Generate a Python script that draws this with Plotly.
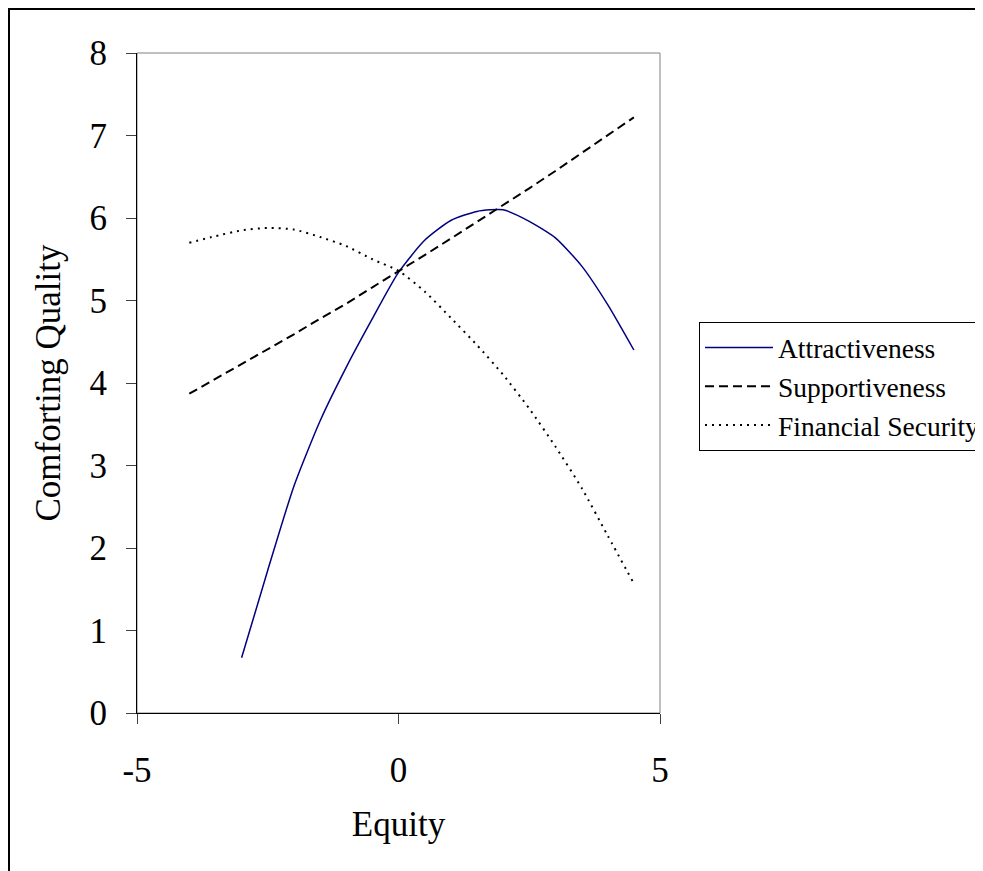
import plotly.graph_objects as go

attr_x = [-3, -2.5, -2, -1.5, -1, -0.5, 0, 0.5, 1, 1.5, 2, 2.5, 3, 3.5, 4, 4.5]
attr_y = [0.67, 1.73, 2.75, 3.54, 4.19, 4.78, 5.34, 5.73, 5.97, 6.08, 6.10, 5.96, 5.76, 5.42, 4.95, 4.40]

supp_x = [-4, -3.5, -3, -2.5, -2, -1.5, -1, -0.5, 0, 0.5, 1, 1.5, 2, 2.5, 3, 3.5, 4, 4.5]
supp_y = [3.87, 4.05, 4.22, 4.41, 4.59, 4.78, 4.96, 5.16, 5.35, 5.55, 5.75, 5.95, 6.15, 6.36, 6.57, 6.79, 7.00, 7.22]

fin_x = [-4, -3.5, -3, -2.5, -2, -1.5, -1, -0.5, 0, 0.5, 1, 1.5, 2, 2.5, 3, 3.5, 4, 4.5]
fin_y = [5.70, 5.78, 5.85, 5.88, 5.86, 5.77, 5.66, 5.50, 5.36, 5.11, 4.79, 4.46, 4.10, 3.69, 3.23, 2.73, 2.15, 1.57]

FONT = "Liberation Serif"

fig = go.Figure()
fig.add_trace(go.Scatter(x=attr_x, y=attr_y, mode="lines", name="Attractiveness", legendgroup="a",
                         line=dict(color="#000080", width=1.5, shape="spline", smoothing=0.6)))
fig.add_trace(go.Scatter(x=supp_x, y=supp_y, mode="lines", name="Supportiveness", legendgroup="b",
                         line=dict(color="black", width=2, dash="9px,5px")))
fig.add_trace(go.Scatter(x=fin_x, y=fin_y, mode="lines", name="Financial Security", legendgroup="c",
                         line=dict(color="black", width=2, dash="2px,5px", shape="spline", smoothing=0.6)))

# figure sits 8px inside the page (browser body margin)
W, H = 983, 863
OFF = 8
L, R, T, B = 137 - OFF, 660 - OFF, 53 - OFF, 713 - OFF
pw, ph = R - L, B - T

fig.update_layout(
    width=W, height=H,
    margin=dict(l=L, r=W - R, t=T, b=H - B, pad=0, autoexpand=False),
    paper_bgcolor="white", plot_bgcolor="white",
    font=dict(family=FONT, color="black"),
    showlegend=True,
    legend=dict(xref="container", yref="container",
                x=(699 - OFF) / W, y=1 - (322 - OFF) / H, xanchor="left", yanchor="top",
                bgcolor="white", bordercolor="black", borderwidth=1,
                font=dict(family=FONT, size=27.5, color="black"),
                tracegroupgap=0, itemwidth=68),
    xaxis=dict(range=[-5, 5], tickvals=[-5, 0, 5], ticktext=["-5", "0", "5"],
               showgrid=False, zeroline=False, showline=True, linecolor="black", linewidth=1,
               ticks="outside", ticklen=10, tickcolor="#404040", tickwidth=1,
               tickfont=dict(family=FONT, size=35), ticklabelstandoff=16,
               title=dict(text="Equity", font=dict(family=FONT, size=35), standoff=22)),
    yaxis=dict(range=[0, 8], tickvals=list(range(0, 9)),
               showgrid=False, zeroline=False, showline=True, linecolor="black", linewidth=1,
               ticks="outside", ticklen=10, tickcolor="#404040", tickwidth=1,
               tickfont=dict(family=FONT, size=35), ticklabelstandoff=12,
               title=dict(text="Comforting Quality", font=dict(family=FONT, size=35), standoff=18)),
    shapes=[
        dict(type="rect", xref="x domain", yref="y domain", x0=0, x1=1, y0=0, y1=1,
             line=dict(color="#808080", width=1), layer="below"),
        dict(type="rect", xref="paper", yref="paper",
             x0=(1 - L) / pw, x1=(W + 20 - L) / pw, y0=(B - (H + 20)) / ph, y1=(B - 1) / ph,
             line=dict(color="black", width=2), fillcolor="rgba(0,0,0,0)", layer="below"),
    ],
)

fig.write_html("out.html")
